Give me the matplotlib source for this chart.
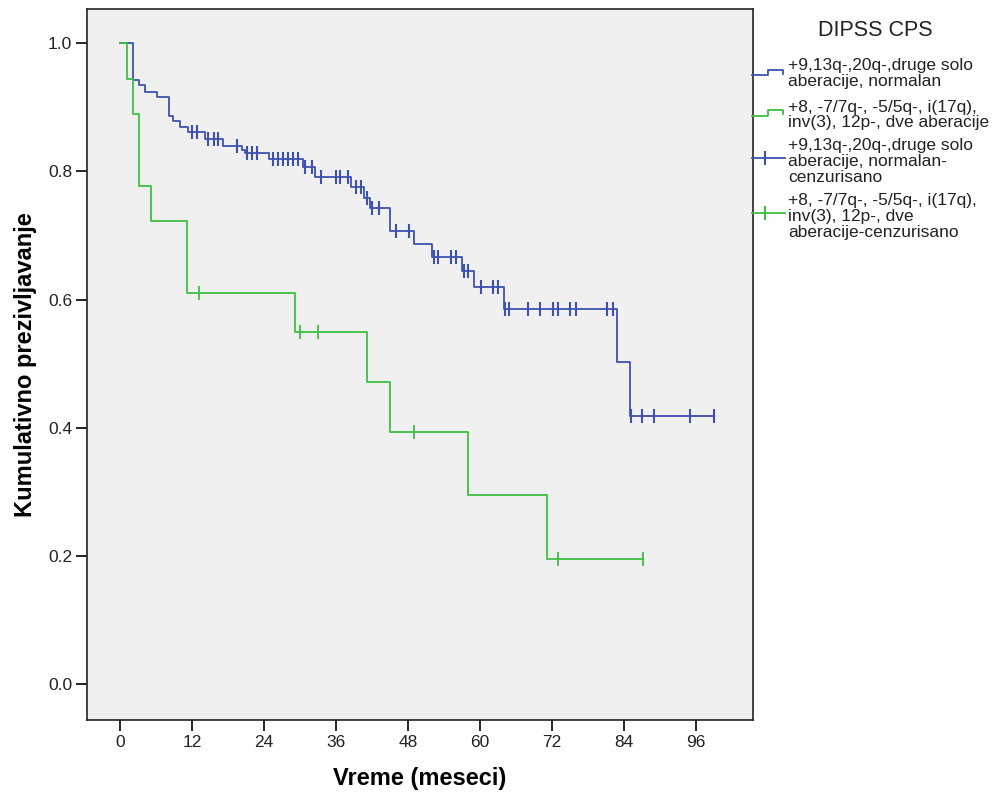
import numpy as np
import matplotlib
matplotlib.use("Agg")
import matplotlib.pyplot as plt
from matplotlib.lines import Line2D

plt.rcParams['font.family'] = ['Liberation Sans', 'DejaVu Sans']

# --- data ---
# group 1: +9,13q-,20q-, druge solo aberacije, normalan
blue_t = [0, 2.1, 3.1, 4.2, 6.1, 8.2, 8.9, 10.0, 11.4, 14.2, 17.2, 20.3, 20.9,
          24.8, 30.5, 32.5, 38.4, 40.6, 41.6, 45.0, 49.0, 52.0, 56.9, 59.0,
          64.0, 82.8, 85.0, 99.0]
blue_s = [1.0, 0.943, 0.935, 0.924, 0.916, 0.887, 0.879, 0.869, 0.862, 0.851,
          0.840, 0.834, 0.828, 0.820, 0.807, 0.792, 0.776, 0.759, 0.743, 0.707,
          0.687, 0.667, 0.644, 0.620, 0.586, 0.503, 0.419, 0.419]
blue_cens = [12.0, 12.8, 14.7, 15.6, 16.4, 19.5, 21.2, 22.0, 22.8, 25.5, 26.4,
             27.2, 28.0, 28.9, 29.7, 30.9, 32.0, 33.4, 35.9, 36.7, 37.9, 39.3,
             40.1, 41.2, 42.0, 43.1, 45.9, 48.1, 52.3, 52.9, 55.1, 55.9, 57.3,
             57.9, 60.1, 62.1, 62.9, 64.2, 64.8, 67.9, 70.0, 72.1, 72.9, 75.0,
             76.0, 81.2, 82.1, 85.2, 87.0, 88.9, 94.9, 99.0]

# group 2: +8, -7/7q-, -5/5q-, i(17q), inv(3), 12p-, dve aberacije
green_t = [0, 1.1, 2.1, 3.1, 5.1, 11.1, 29.1, 41.1, 45.0, 58.0, 71.1, 87.1]
green_s = [1.0, 0.944, 0.889, 0.778, 0.722, 0.611, 0.550, 0.471, 0.393, 0.295,
           0.196, 0.196]
green_cens = [13.1, 30.0, 33.0, 49.0, 72.9, 87.1]

x_ticks = [0, 12, 24, 36, 48, 60, 72, 84, 96]
y_ticks = [0.0, 0.2, 0.4, 0.6, 0.8, 1.0]

labels = ['+9,13q-,20q-,druge solo\naberacije, normalan',
          '+8, -7/7q-, -5/5q-, i(17q),\ninv(3), 12p-, dve aberacije',
          '+9,13q-,20q-,druge solo\naberacije, normalan-\ncenzurisano',
          '+8, -7/7q-, -5/5q-, i(17q),\ninv(3), 12p-, dve\naberacije-cenzurisano']

blue = '#3d52b0'
green = '#3cc043'

W, H = 1000, 798
fig = plt.figure(figsize=(W / 100, H / 100), dpi=100)
ax = fig.add_axes([87.3 / W, 1 - 720 / H, (752.7 - 87.3) / W, (720 - 9.3) / H])
ax.set_facecolor('#f0f0f0')


def surv_at(t, s, c):
    idx = np.searchsorted(t, c, side='right') - 1
    return np.array(s)[idx]


ax.step(blue_t, blue_s, where='post', color=blue, lw=1.3)
ax.step(green_t, green_s, where='post', color=green, lw=1.3)
ax.plot(blue_cens, surv_at(blue_t, blue_s, blue_cens), ls='none', marker='|',
        ms=10, mew=1.5, color=blue)
ax.plot(green_cens, surv_at(green_t, green_s, green_cens), ls='none', marker='|',
        ms=10, mew=1.3, color=green)

ax.set_xlim(-5.45, 105.4)
ax.set_ylim(-0.056, 1.053)
ax.set_xticks(x_ticks)
ax.set_yticks(y_ticks)
ax.set_yticklabels([f'{v:.1f}' for v in y_ticks])
ax.tick_params(direction='out', length=8, width=1.2, labelsize=12.5,
               labelcolor='#222222', pad=3)
for sp in ax.spines.values():
    sp.set_linewidth(1.2)
    sp.set_color('#222222')

ax.set_xlabel('Vreme (meseci)', fontsize=17, fontweight='bold', labelpad=12)
ax.set_ylabel('Kumulativno prezivljavanje', fontsize=17, fontweight='bold',
              labelpad=8)

# legend drawn by hand, SPSS style
fx = lambda x: x / W
fy = lambda y: 1 - y / H
fig.text(fx(875), fy(31), 'DIPSS CPS', fontsize=15.5, ha='center', va='center',
         color='#222222')

for yl, yh, c in [(75, 70, blue), (116, 110, green)]:
    fig.add_artist(Line2D([fx(752), fx(768), fx(768), fx(783), fx(783)],
                          [fy(yl), fy(yl), fy(yh), fy(yh), fy(yh + 4)],
                          color=c, lw=1.3))
for yc, c in [(158.3, blue), (213.3, green)]:
    fig.add_artist(Line2D([fx(752), fx(785)], [fy(yc), fy(yc)], color=c, lw=1.3))
    fig.add_artist(Line2D([fx(765), fx(765)], [fy(yc - 6), fy(yc + 6)],
                          color=c, lw=1.5))

for lab, yc in zip(labels, [73.5, 115, 161.5, 216.5]):
    fig.text(fx(788), fy(yc), lab, fontsize=12.5, ha='left', va='center',
             linespacing=1.06, color='#222222')

fig.savefig('out.png', dpi=100, facecolor='white')
